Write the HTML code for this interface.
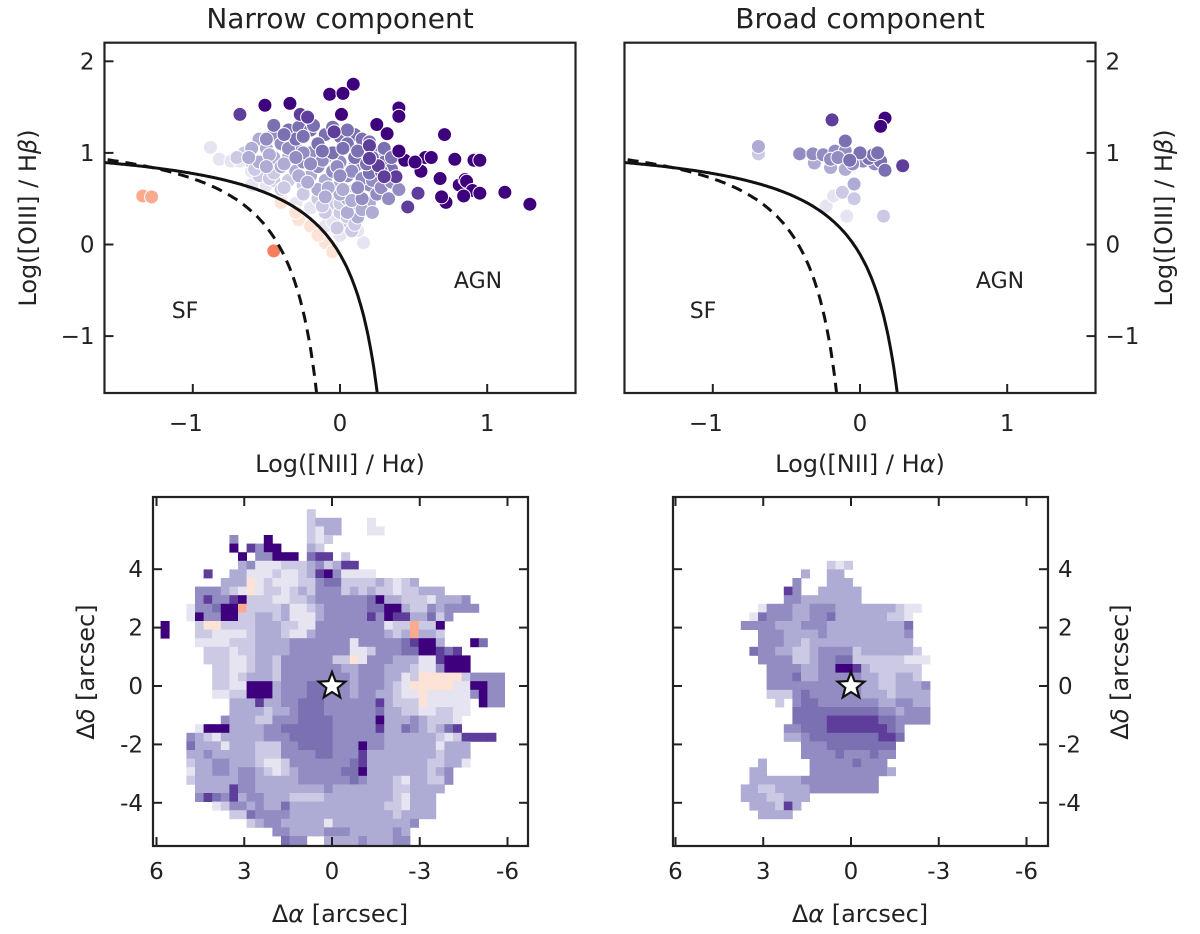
<!DOCTYPE html>
<html><head><meta charset="utf-8"><style>
html,body{margin:0;padding:0;background:#fff;}
svg{display:block;font-family:"DejaVu Sans","Liberation Sans",sans-serif;}
</style></head><body>
<svg id="fig" width="1200" height="934" viewBox="0 0 1200 934" xmlns="http://www.w3.org/2000/svg">
<g id="layer-maps"></g>
<g id="layer-top"></g>
<g id="layer-text" fill="#222">
<text x="340" y="28" font-size="28" text-anchor="middle">Narrow component</text>
<text x="860" y="28" font-size="28" text-anchor="middle">Broad component</text>
<text x="340" y="472" font-size="24" text-anchor="middle">Log([NII] / H<tspan font-style="italic">α</tspan>)</text>
<text x="860" y="472" font-size="24" text-anchor="middle">Log([NII] / H<tspan font-style="italic">α</tspan>)</text>
<text transform="translate(36,218) rotate(-90)" font-size="24" text-anchor="middle">Log([OIII] / H<tspan font-style="italic">β</tspan>)</text>
<text transform="translate(1172,218) rotate(-90)" font-size="24" text-anchor="middle">Log([OIII] / H<tspan font-style="italic">β</tspan>)</text>
<text x="185" y="318" font-size="22" text-anchor="middle">SF</text>
<text x="478" y="288" font-size="22" text-anchor="middle">AGN</text>
<text x="703" y="318" font-size="22" text-anchor="middle">SF</text>
<text x="1000" y="288" font-size="22" text-anchor="middle">AGN</text>
<text x="340" y="922" font-size="24" text-anchor="middle">Δ<tspan font-style="italic">α</tspan> [arcsec]</text>
<text x="860" y="922" font-size="24" text-anchor="middle">Δ<tspan font-style="italic">α</tspan> [arcsec]</text>
<text transform="translate(94,672) rotate(-90)" font-size="24" text-anchor="middle">Δ<tspan font-style="italic">δ</tspan> [arcsec]</text>
<text transform="translate(1128,672) rotate(-90)" font-size="24" text-anchor="middle">Δ<tspan font-style="italic">δ</tspan> [arcsec]</text>
</g>
</svg>
<script>
// ---------- data ----------
const bptXTicks = [-1, 0, 1];
const bptXTickLabels = ["−1", "0", "1"];
const bptYTicks = [-1, 0, 1, 2];
const bptYTickLabels = ["−1", "0", "1", "2"];
const mapXTicks = [6, 3, 0, -3, -6];
const mapXTickLabels = ["6", "3", "0", "-3", "-6"];
const mapYTicks = [4, 2, 0, -2, -4];
const mapYTickLabels = ["4", "2", "0", "-2", "-4"];

// narrow component scatter (grouped by colour level, light drawn first)
const narrowX = [
 -0.88,-0.82,-0.74,-0.68,-0.6,-0.5,-0.4,-0.3,-0.2,-0.1,0.0,0.16,0.12,0.08,-0.05,-0.6,
 -0.4,-0.28,-0.2,-0.1,-0.05,-0.15,-0.3,
 -0.65,-0.6,-0.5,-0.45,-0.35,-0.25,-0.15,-0.05,0.0,0.05,-0.4,-0.55,0.08,-0.1,
 -0.7,-0.58,-0.48,-0.38,-0.25,-0.12,0.0,0.05,0.1,-0.02,-0.45,
 -0.55,-0.5,-0.45,-0.35,-0.4,-0.3,-0.2,-0.1,0.0,0.1,-0.15,0.05,0.1,0.2,-0.55,0.12,-0.3,0.0,0.05,
 -0.6,-0.48,-0.38,-0.28,-0.22,-0.08,0.02,0.08,0.15,-0.1,-0.5,-0.62,0.22,
 -0.45,-0.4,-0.3,-0.2,-0.1,0.0,0.1,-0.25,0.05,0.2,0.25,0.15,-0.05,-0.15,0.3,
 -0.5,-0.35,-0.25,-0.12,-0.02,0.08,0.15,0.22,0.12,0.28,-0.3,-0.2,0.0,0.35,0.4,0.33,
 -0.35,-0.28,-0.2,-0.1,0.0,0.1,-0.3,-0.15,0.05,0.15,0.25,-0.05,0.3,0.1,0.35,0.2,
 -0.45,-0.38,-0.25,-0.18,-0.05,0.05,0.15,0.2,0.22,0.3,-0.12,0.02,0.12,0.18,0.28,0.35,
 -0.68,-0.27,-0.22,-0.04,0.2,0.26,0.38,0.46,0.53,0.3,0.2,
 0.09,-0.07,0.02,-0.51,-0.34,0.01,0.4,0.4,0.25,0.32,0.71,0.58,0.62,0.78,0.91,0.95,0.68,0.81,0.85,0.86,0.9,0.95,1.12,1.29,0.72,0.69,0.84,0.55,0.44,0.4,0.51,
 -1.34,-1.28,-0.45];
const narrowY = [
 1.06,0.93,0.91,0.91,0.8,0.65,0.5,0.45,0.4,0.2,0.1,0.02,0.15,0.31,0.25,0.65,
 0.46,0.27,0.2,0.02,-0.08,0.1,0.35,
 1.0,0.9,0.8,0.7,0.7,0.65,0.5,0.45,0.35,0.25,0.6,0.75,0.15,0.35,
 0.95,0.82,0.72,0.62,0.55,0.42,0.45,0.3,0.22,0.18,0.78,
 1.15,1.05,0.95,0.95,0.85,0.8,0.75,0.7,0.65,0.6,0.6,0.5,0.4,0.45,0.9,0.3,1.0,0.55,0.35,
 1.05,0.98,0.88,0.75,0.68,0.62,0.6,0.48,0.38,0.52,0.85,0.95,0.35,
 1.2,1.1,1.05,1.0,0.95,0.9,0.85,0.9,0.75,0.65,0.55,0.5,0.8,0.85,0.7,
 1.15,1.05,1.0,0.92,0.85,0.8,0.72,0.7,0.62,0.62,0.95,0.88,0.75,0.68,0.6,0.5,
 1.25,1.28,1.25,1.2,1.18,1.2,1.15,1.1,1.1,1.05,1.0,1.0,0.9,0.95,0.82,0.78,
 1.3,1.2,1.18,1.3,1.28,1.25,1.15,1.12,0.95,1.05,1.02,1.05,1.02,0.88,0.8,0.95,
 1.42,1.42,1.39,1.23,1.08,0.86,0.74,0.41,0.56,0.74,0.94,
 1.75,1.64,1.65,1.52,1.54,1.42,1.49,1.4,1.31,1.21,1.2,0.95,0.95,0.93,0.92,0.92,0.72,0.65,0.71,0.69,0.59,0.56,0.57,0.44,0.46,0.52,0.53,0.8,0.92,1.02,0.9,
 0.53,0.52,-0.07];
const narrowLevel = "a".repeat(16) + "p".repeat(7) + "b".repeat(25) + "c".repeat(32) + "d".repeat(31) + "e".repeat(32) + "f".repeat(11) + "g".repeat(31) + "rrs";

// broad component scatter
const broadX = [-0.23,-0.09,-0.18, -0.69,-0.12,-0.04,0.16, -0.69,-0.2,-0.31,-0.1,-0.04,
 -0.41,-0.32,-0.25,-0.17,-0.1,-0.03,0.02,-0.2,-0.05,0.1,-0.15,
 -0.1,0.06,0.14,0.17,0.09,0.0,0.12,-0.07, 0.29,-0.19, 0.17,0.14];
const broadY = [0.42,0.31,0.53, 0.99,0.57,0.5,0.31, 1.07,0.84,0.89,0.82,0.66,
 0.99,0.99,0.98,1.02,1.02,0.94,0.91,0.93,0.88,0.88,0.95,
 1.13,0.94,0.91,0.81,0.98,1.0,1.0,0.92, 0.86,1.36, 1.38,1.29];
const broadLevel = "aaa" + "bbbb" + "ccccc" + "d".repeat(11) + "e".repeat(8) + "ff" + "gg";

// narrow map rows (cell levels; '.' = no data)
const narrowMapRows = [
"............................................",
"............................................",
"..................b.........................",
"..................bccc...a..................",
"..................bacc...aa.................",
".........d...g....bab.......................",
".........g.fdgg...cb........................",
"..........g.ddggg.eff.b.....................",
"..........cdaaabbbcdbcff....................",
"......f..ccaaabaabcfgdaaaa..................",
"........cccpabaaabbdeebbbbcbabc.............",
".....dddcbapabbabcbdddbcbcbbabbccc..........",
".....dfddfgbbbaabbcddddddegccbbbacccd.......",
"....addeggrbbbbcaabcdddddeeggcbbdcdddd......",
"....agddggbbccbcaaacdddddfdgffccebd.........",
".g...bppbbbbcccbbaaddddddddabbrbbg..........",
".g...bbaaaabcccbaacddddddddcbcrccb..........",
".....aaaabbbccccdddddddadddddefggc...ge.....",
"......bbbabbccccdddddddaabdddeeggfef........",
"......bbbaabccbddddddbbpadddcccaafggg.......",
".......bbaabccbdddddddccdddcccbaadggg.......",
".......bbabcccbddddddddcdddccabpppppbdddd...",
".......bbaagggcdddeedddcdddcbapppppaaggdd...",
".......aabbgggcdddeedddcddccbaapaaaaadgdd...",
".........cccfccddeeeddddddfcbbbpaaaaa.gdd...",
".........ccccbccdeeeddddddeccbbaabbaa.......",
"........dcccbbdddeeeedddddgcccdcbbba........",
".....agggccccddeeeeeedddddfccedcbcef........",
"....dcbacccccdddeeeeeddddddccccccbabffff....",
"....ecccacccbbbddeeeedddgddccccccaccc.......",
"....ccdcccccbbbddddeedddfccccccccbccc.......",
"....bccddcccbaabdddddddefcccccccbbcca.......",
"....accddcddcbabcdddddeegcccccccbcd.........",
"....bcccccddcccccddddddedcccbaccbbd.........",
".....ccccfddccccccccdcccccccbbcccc..........",
".....dfedfcddcccbbbbccccccccbaccc...........",
".......abddcdccecccccccccccbbaccc...........",
".........bbeddddccccccccccccbcccc...........",
"...........bcddcccccacccccccccd.............",
"..............ddccccdddcccccdc..............",
"...............edd..ccccdcccdd..............",
"...............edd..ccccdcccdd.............."
];
// broad map rows
const broadMapRows = [
"",
"",
"",
".............bab",
"..........c..cc",
".........d...ccc",
"........fd..ccccc",
"........ddccccccc",
".....adddccdddcccccccbaa",
"....aedddccddeccccccbba",
"...ddddcccdddccccccccce",
".....dddccccdcccccccccd",
".....dddccbcccccccccccc",
"....eddccbbcddddbccccccb",
".....ddddbbcddeebbbbbbaaa",
"......ddddccddggfcbbbbbb",
"......dddeccdddddccbbccb",
"......dddddddddddccbbcccd",
"......bbbdeddddddcccbcccc",
".......b.deedddddddccddcc",
".........eeeeeeeeeeddcddd",
".........eeeeffffffeedddd",
"........ddeeefffffffed",
"........ccdeeeeeeeeffe",
"..........dddeeeeeeee",
"..........ddddedddedd",
".....c.....dddddeddd",
"....cc.....dddddddddc",
"....ccccccddddddddd",
"...ccbbccccdddddddd",
"...cccbbccc",
"....cccbfc",
".....cccc"
];
const levelColor = {a:"#e6e4f1",b:"#cbc9e3",c:"#aeabd4",d:"#928cc3",e:"#7a70b2",f:"#5e3d9b",g:"#3f007d",p:"#fde3d6",r:"#fcaa8d",s:"#f6805e"};

// ---------- helpers ----------
const NS = "http://www.w3.org/2000/svg";
function mk(tag, attrs, parent){ const e=document.createElementNS(NS,tag); for(const k in attrs) e.setAttribute(k,attrs[k]); parent.appendChild(e); return e; }
const topLayer = document.getElementById("layer-top");
const mapLayer = document.getElementById("layer-maps");

const BPT = {top:42.7, bottom:393, y0:244.5, ys:91.6, xs:147.2};
function bx(v, x0){ return x0 + v*BPT.xs; }
function by(v){ return BPT.y0 - v*BPT.ys; }

function drawBPT(x0, xs, ys, lv, side, nm){
  const left = x0 - 1.6*BPT.xs, right = x0 + 1.6*BPT.xs;
  const g = mk("g", {}, topLayer);
  
  
  const cp = mk("clipPath", {id: nm+"clip"}, g);
  mk("rect", {x:left, y:BPT.top, width:right-left, height:BPT.bottom-BPT.top}, cp);
  const inner = mk("g", {"clip-path":"url(#"+nm+"clip)"}, g);
  for (let i=0;i<xs.length;i++){
    const c = mk("circle", {cx:bx(xs[i],x0), cy:by(ys[i]), r:7, fill:levelColor[lv[i]]||"#ccc", stroke:"#fff", "stroke-width":1}, inner);
    
    
  }
  let ds="", dk="";
  for (let x=-1.7; x<0.47; x+=0.01){
    const y=0.61/(x-0.47)+1.19; if (y<-2) break;
    ds += (ds?"L":"M")+bx(x,x0).toFixed(1)+","+by(y).toFixed(1);
  }
  for (let x=-1.7; x<0.05; x+=0.01){
    const y=0.61/(x-0.05)+1.3; if (y<-2) break;
    dk += (dk?"L":"M")+bx(x,x0).toFixed(1)+","+by(y).toFixed(1);
  }
  const p1 = mk("path", {d:ds, fill:"none", stroke:"#111", "stroke-width":3}, inner);
  
  
  const p2 = mk("path", {d:dk, fill:"none", stroke:"#111", "stroke-width":3, "stroke-dasharray":"11,7"}, inner);
  
  
  const fr = mk("rect", {x:left, y:BPT.top, width:right-left, height:BPT.bottom-BPT.top, fill:"none", stroke:"#222", "stroke-width":2.2}, g);
  
  
  bptXTicks.forEach((t,i)=>{
    const X=bx(t,x0);
    mk("line",{x1:X,x2:X,y1:BPT.bottom,y2:BPT.bottom-9,stroke:"#222","stroke-width":2},g);
    const tx = mk("text",{x:X-(t<0?7:0),y:BPT.bottom+38,"font-size":23,"text-anchor":"middle",fill:"#222"},g);
    tx.textContent = bptXTickLabels[i];
    
    
  });
  bptYTicks.forEach((t,i)=>{
    const Y=by(t);
    const ax = side==="left"? left : right;
    const dir = side==="left"? 1 : -1;
    mk("line",{x1:ax,x2:ax+dir*9,y1:Y,y2:Y,stroke:"#222","stroke-width":2},g);
    const tx = mk("text",{x: side==="left"? left-10 : right+10, y:Y+8,"font-size":23,"text-anchor": side==="left"?"end":"start",fill:"#222"},g);
    tx.textContent = bptYTickLabels[i];
    
    
  });
}
drawBPT(340, narrowX, narrowY, narrowLevel, "left", "narrow");
drawBPT(860, broadX, broadY, broadLevel, "right", "broad");

const MAP = {top:497, bottom:846, cell:8.6, xs:29.25, ys:29.2, y0:686};
function mx(v, x0){ return x0 - v*MAP.xs; }
function my(v){ return MAP.y0 - v*MAP.ys; }
function drawMap(x0, frameL, rows, gx, gy, side, nm){
  const frameR = frameL + 375;
  const g = mk("g", {}, mapLayer);
  
  
  const cp = mk("clipPath", {id: nm+"mclip"}, g);
  mk("rect", {x:frameL, y:MAP.top, width:frameR-frameL, height:MAP.bottom-MAP.top}, cp);
  const inner = mk("g", {"clip-path":"url(#"+nm+"mclip)"}, g);
  rows.forEach((row, r)=>{
    for (let c=0;c<row.length;c++){
      const ch=row[c]; if (!levelColor[ch]) continue;
      const cell = mk("rect",{x:(gx+c*MAP.cell).toFixed(2), y:(gy+r*MAP.cell).toFixed(2), width:MAP.cell+0.4, height:MAP.cell+0.4, fill:levelColor[ch]}, inner);
      
      
    }
  });
  const cx = mx(0,x0), cy = my(0), R=14, r2=6;
  let pts=[];
  for (let k=0;k<10;k++){ const a=-Math.PI/2+k*Math.PI/5; const rr=k%2?r2:R; pts.push((cx+rr*Math.cos(a)).toFixed(1)+","+(cy+rr*Math.sin(a)).toFixed(1)); }
  const st = mk("polygon",{points:pts.join(" "),fill:"#fff",stroke:"#111","stroke-width":2.2,"stroke-linejoin":"miter"},g);
  
  
  const fr = mk("rect",{x:frameL,y:MAP.top,width:frameR-frameL,height:MAP.bottom-MAP.top,fill:"none",stroke:"#222","stroke-width":2.2},g);
  
  
  mapXTicks.forEach((t,i)=>{
    const X=mx(t,x0);
    mk("line",{x1:X,x2:X,y1:MAP.bottom,y2:MAP.bottom-9,stroke:"#222","stroke-width":2},g);
    mk("line",{x1:X,x2:X,y1:MAP.top,y2:MAP.top+9,stroke:"#222","stroke-width":2},g);
    const tx = mk("text",{x:X,y:MAP.bottom+33,"font-size":23,"text-anchor":"middle",fill:"#222"},g);
    tx.textContent = mapXTickLabels[i];
    
    
  });
  mapYTicks.forEach((t,i)=>{
    const Y=my(t);
    mk("line",{x1:frameL,x2:frameL+9,y1:Y,y2:Y,stroke:"#222","stroke-width":2},g);
    mk("line",{x1:frameR,x2:frameR-9,y1:Y,y2:Y,stroke:"#222","stroke-width":2},g);
    const tx = mk("text",{x: side==="left"? frameL-10 : frameR+10, y:Y+8,"font-size":23,"text-anchor": side==="left"?"end":"start",fill:"#222"},g);
    tx.textContent = mapYTickLabels[i];
    
    
  });
}
drawMap(332, 153, narrowMapRows, 152, 492, "left", "narrow");
drawMap(851, 673, broadMapRows, 715, 535, "right", "broad");
</script>
</body></html>
